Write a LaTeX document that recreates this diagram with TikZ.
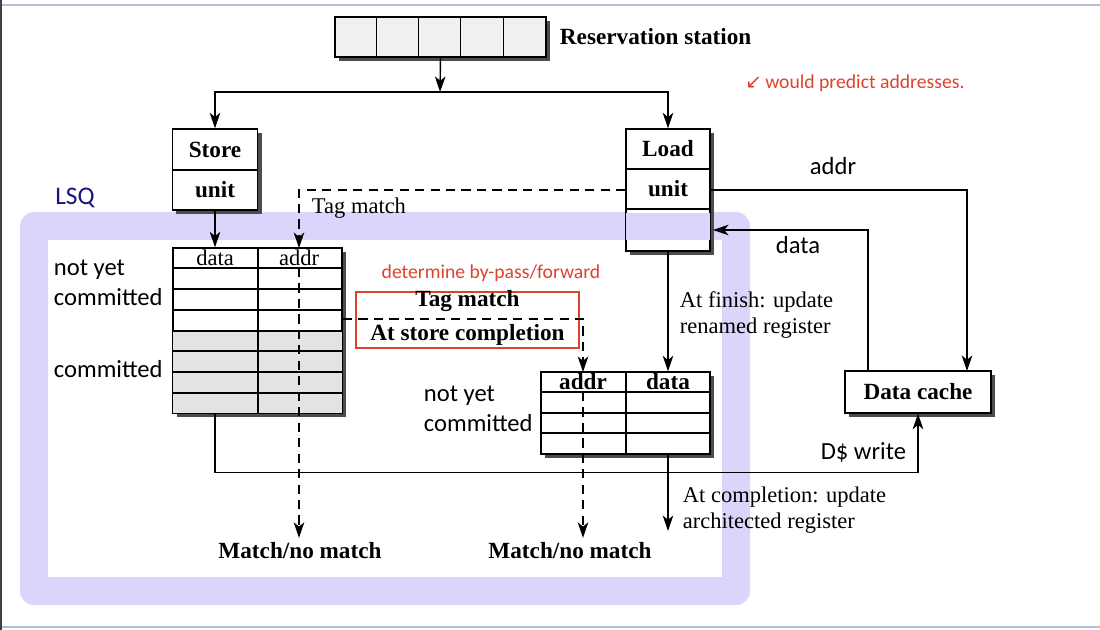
\documentclass[tikz,border=0pt]{standalone}
\usepackage{fontspec}
\setmainfont{Liberation Serif}
\newfontfamily\sansfont{Carlito}
\newfontfamily\symfont{DejaVu Sans}
\usetikzlibrary{arrows.meta,shadows}
\definecolor{lsqband}{RGB}{218,213,250}
\definecolor{notered}{RGB}{222,66,45}
\definecolor{lsqnavy}{RGB}{20,20,130}
\definecolor{framegray}{RGB}{180,192,218}

\tikzset{
  box/.style={draw, line width=1pt, fill=white, inner sep=0pt,
    drop shadow={shadow xshift=0.1cm, shadow yshift=-0.1cm, fill=black!70, opacity=1}},
  arr/.style={line width=1pt, -{Stealth[length=11pt,width=7.5pt,inset=3pt]}},
  dasharr/.style={arr, dash pattern=on 6.5pt off 4.5pt},
  bold/.style={font=\fontsize{16.5}{19}\selectfont\bfseries},
  serif/.style={font=\fontsize{16}{18.5}\selectfont},
  sans/.style={font=\sansfont\fontsize{17.5}{21.5}\selectfont},
  scribble/.style={text=notered, font=\sansfont\fontsize{14}{16}\selectfont},
}

\begin{document}
\begin{tikzpicture}[x=0.025cm, y=-0.025cm]
    \useasboundingbox (0,0) rectangle (1100,630);
    % frame:
    \draw[framegray, line width=1.5pt] (0,5) -- (1100,5);
    \draw[framegray, line width=1.5pt] (0,627) -- (1100,627);
    \draw[black!75, line width=1.5pt] (0.8,0) -- (0.8,630);
    % lsq band:
    \fill[lsqband, rounded corners=0.35cm] (20,212) rectangle (750,605);
    \fill[white] (48,240) rectangle (722,577);
    \node[text=lsqnavy, font=\sansfont\fontsize{18}{20}\selectfont] (lsq) at (75,198) {LSQ};
    % reservation station:
    \node[box, fill=gray!12, minimum width=5.275cm, minimum height=1cm] (rs) at (440.5,37) {};
    \foreach \i in {1,...,4}
        \draw[line width=0.8pt] ([xshift=\i*1.055cm]rs.north west) -- ([xshift=\i*1.055cm]rs.south west);
    \node[bold, anchor=west] (rslabel) at (555,37) {Reservation station};
    % store unit:
    \node[box, minimum width=2.125cm, minimum height=2.025cm] (store) at (215,169.5) {};
    \draw[line width=0.8pt] (173,170) -- (258,170);
    \node[bold] (storetxt) at (215,150) {Store};
    \node[bold] (storeunit) at (215,190) {unit};
    % load unit:
    \node[box, minimum width=2.1cm, minimum height=3.05cm] (load) at (668,190) {};
    \fill[lsqband] (626,213) rectangle (710,240);
    \draw[line width=1pt] (load.north west) rectangle (load.south east);
    \draw[line width=0.8pt] (626,169) -- (710,169) (626,209) -- (710,209);
    \node[bold] (loadtxt) at (668,149) {Load};
    \node[bold] (loadunit) at (668,189) {unit};
    % store queue:
    \node[box, minimum width=4.225cm, minimum height=4.125cm] (sq) at (257.5,330.5) {};
    \fill[gray!22] (173,331) rectangle (342,413);
    \foreach \y in {268,289,310,331,351,372,393}
        \draw[line width=0.8pt] (173,\y) -- (342,\y);
    \draw[line width=0.8pt] (258,248) -- (258,413);
    \draw[line width=1pt] (sq.north west) rectangle (sq.south east);
    \node[serif] (sqdata) at (215,258) {data};
    \node[serif] (sqaddrtxt) at (299,258) {addr};
    % load queue:
    \node[box, minimum width=4.225cm, minimum height=2.05cm] (lq) at (625.5,413) {};
    \foreach \y in {392,413,433}
        \draw[line width=0.8pt] (541,\y) -- (710,\y);
    \draw[line width=0.8pt] (626,372) -- (626,454);
    \node[bold] (lqaddrtxt) at (583,382) {addr};
    \node[bold] (lqdata) at (668,382) {data};
    % data cache:
    \node[box, bold, minimum width=3.65cm, minimum height=1.05cm] (dc) at (918,392) {Data cache};
    % forwarding box:
    \node[draw=notered, line width=1.3pt, minimum width=5.575cm, minimum height=1.4cm] (fwdbox) at (467.5,320) {};
    \node[bold] (fwdtag) at (467.5,301) {Tag match};
    \node[bold] (fwdcompl) at (467.5,335) {At store completion};
    \node[scribble] (bypass) at (491,273) {determine by-pass/forward};
    \node[scribble] (predict) at (855,83) {{\symfont ↙}\,would predict addresses.};
    % arrows:
    \coordinate (fork) at (440,92);
    \draw[arr] (rs.south) -- (fork);
    \draw[arr] (fork) -| (store.north);
    \draw[arr] (fork) -| (load.north);
    \draw[arr] (store.south) -- (sq.north -| store.south);
    \coordinate (sqaddr) at (299,248);
    \coordinate (sqaddrrow) at (299,268);
    \draw[dasharr] (load.west) -| (sqaddr);
    \node[serif, anchor=west] (tagmatch) at (307,208) {Tag match};
    \node[bold] (match1) at (300,551) {Match/no match};
    \draw[dasharr] (sqaddrrow) -- (sqaddrrow |- match1.north);
    \coordinate (fwd) at (343,319);
    \coordinate (lqaddr) at (583,372);
    \coordinate (lqaddrrow) at (583,392);
    \draw[dasharr] (fwd) -| (lqaddr);
    \node[bold] (match2) at (570,551) {Match/no match};
    \draw[dasharr] (lqaddrrow) -- (lqaddrrow |- match2.north);
    \draw[arr] (load.south) -- (lq.north -| load.south);
    \node[serif, anchor=west, align=left] (finish) at (675,315) {At finish: update\\renamed register};
    \coordinate (archreg) at (668,531);
    \draw[arr] (lq.south -| load.south) -- (archreg);
    \node[serif, anchor=west, align=left] (complete) at (678,510) {At completion: update\\architected register};
    \draw[arr] (sq.south -| store.south) -- ++(0,59) -| (dc.south);
    \node[sans, anchor=east] (dwrite) at (911,452) {D\$ write};
    \coordinate (dcaddr) at (967,371);
    \draw[arr] (load.east) -| (dcaddr);
    \node[sans] (addrlbl) at (833,166) {addr};
    \coordinate (dcdata) at (868,371);
    \coordinate (loaddata) at (713,230);
    \draw[arr] (dcdata) |- (loaddata);
    \node[sans] (datalbl) at (798,245) {data};
    % side notes:
    \node[sans, anchor=west, align=left] (sqnew) at (49,283) {not yet\\committed};
    \node[sans, anchor=west] (sqold) at (49,369) {committed};
    \node[sans, anchor=west, align=left] (lqnew) at (419,409) {not yet\\committed};
\end{tikzpicture}
\end{document}
